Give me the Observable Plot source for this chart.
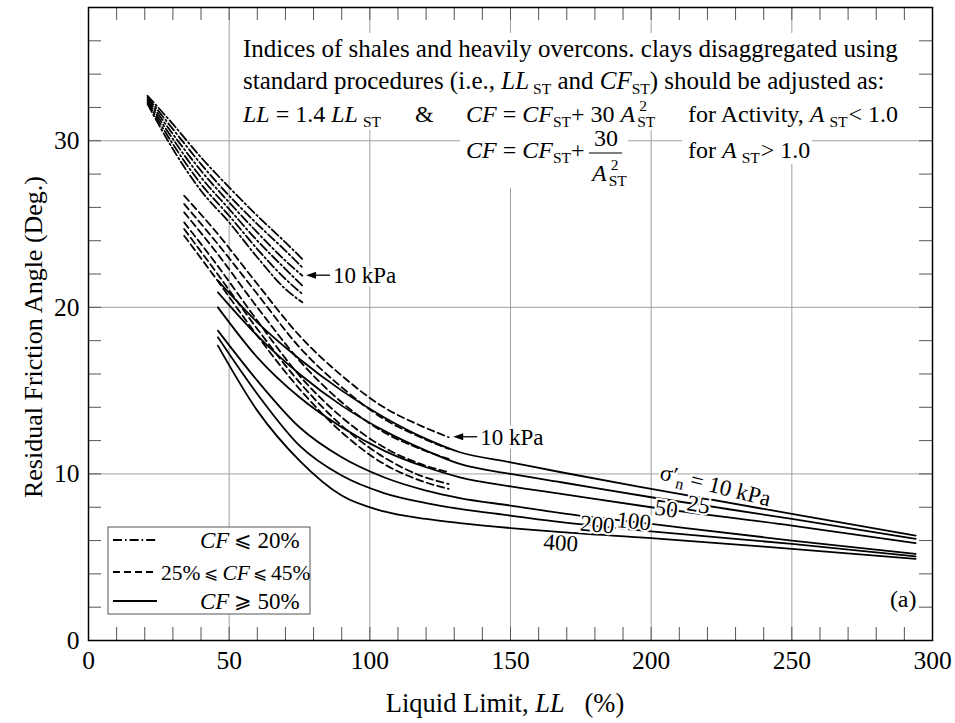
<!DOCTYPE html>
<html><head><meta charset="utf-8">
<script src="https://cdn.jsdelivr.net/npm/d3@7"></script>
<script src="https://cdn.jsdelivr.net/npm/@observablehq/plot@0.6"></script>
<style>body{margin:0;background:#fff} svg{display:block}</style>
</head><body><div id="chart"></div>
<script>
// ---- axis ticks ----
const X_MAJOR = [0, 50, 100, 150, 200, 250, 300];
const Y_MAJOR = [0, 10, 20, 30];
const X_GRID = [50, 100, 150, 200, 250];
const Y_GRID = [10, 20, 30];
const X_MINOR = [10,20,30,40,50,60,70,80,90,100,110,120,130,140,150,160,170,180,190,200,210,220,230,240,250,260,270,280,290];
const Y_MINOR = [2,4,6,8,10,12,14,16,18,20,22,24,26,28,30,32,34,36];

// ---- curves: CF <= 20% (dash-dot) ----
const ddLL   = [21, 30, 40, 50, 60, 70, 76];
const dd10   = [32.7, 31.0, 29.0, 27.2, 25.5, 23.9, 22.9];
const dd25   = [32.6, 30.7, 28.6, 26.7, 25.0, 23.4, 22.4];
const dd50   = [32.5, 30.4, 28.2, 26.3, 24.5, 22.8, 21.9];
const dd100  = [32.4, 30.1, 27.8, 25.9, 24.0, 22.3, 21.3];
const dd200  = [32.3, 29.8, 27.4, 25.5, 23.5, 21.7, 20.8];
const dd400  = [32.2, 29.5, 27.0, 25.1, 23.0, 21.1, 20.3];

// ---- curves: 25% <= CF <= 45% (dashed) ----
const dLL   = [34, 45, 60, 75, 90, 105, 118, 128];
const d10   = [26.7, 24.6, 21.4, 18.3, 15.9, 14.0, 12.9, 12.2];
const d25   = [26.2, 24.0, 20.8, 17.6, 15.2, 13.3, 12.2, 11.5];
const d50   = [25.7, 23.4, 20.0, 16.8, 14.3, 12.5, 11.5, 10.9];
const d100  = [25.1, 22.7, 19.2, 15.9, 13.4, 11.6, 10.6, 10.1];
const d200  = [24.7, 22.2, 18.7, 15.5, 12.9, 11.0, 9.9, 9.4];
const d400  = [24.3, 21.8, 18.3, 15.1, 12.5, 10.6, 9.6, 9.1];

// ---- curves: CF >= 50% (solid) ----
const sLL   = [46, 60, 75, 90, 105, 120, 132, 150, 168, 200, 250, 294];
const s10   = [21.6, 19.1, 16.9, 15.0, 13.4, 12.1, 11.3, 10.7, 10.1, 9.1, 7.6, 6.3];
const s25   = [20.9, 18.3, 16.0, 14.1, 12.6, 11.4, 10.6, 10.0, 9.5, 8.6, 7.3, 6.1];
const s50   = [20.0, 17.0, 14.6, 12.8, 11.4, 10.4, 9.8, 9.25, 8.8, 8.0, 6.9, 5.85];
const s100  = [18.6, 15.6, 12.8, 11.0, 9.8, 9.0, 8.55, 8.1, 7.65, 7.0, 6.0, 5.2];
const s200  = [18.2, 14.8, 11.7, 9.9, 8.85, 8.25, 7.9, 7.5, 7.1, 6.55, 5.8, 5.05];
const s400  = [17.7, 13.8, 10.8, 8.7, 7.75, 7.3, 7.05, 6.75, 6.5, 6.15, 5.5, 4.9];

// ---- curve labels (LL, phi, text) ----
const labelLL   = [223, 217, 205.5, 194, 181, 168];
const labelPhi  = [9.25, 8.1, 7.85, 7.1, 6.9, 5.8];
const labelText = ["10 kPa", "25", "50", "100", "200", "400"];
const labelRot  = [14, 10, 8, 6, 5, 4];

// arrows "10 kPa": tip LL, phi
const arrowLL  = [77.5, 129.8];
const arrowPhi = [21.9, 12.2];

function rows(LLs, arrs, names) {
  const out = [];
  arrs.forEach((a, k) => a.forEach((v, i) => out.push({LL: LLs[i], phi: v, p: names[k]})));
  return out;
}
const P = ["10","25","50","100","200","400"];
const rowsDD = rows(ddLL, [dd10, dd25, dd50, dd100, dd200, dd400], P);
const rowsD  = rows(dLL,  [d10, d25, d50, d100, d200, d400], P);
const rowsS  = rows(sLL,  [s10, s25, s50, s100, s200, s400], P);

const W = 955, H = 723, ML = 88, MR = 23, MT = 7, MB = 83;
const PW = W - ML - MR, PH = H - MT - MB;
const FONT = "Liberation Serif, Times New Roman, serif";
const lineOpts = {x: "LL", y: "phi", z: "p", curve: "monotone-x", stroke: "black", strokeWidth: 1.8};

const chart = Plot.plot({
  width: W, height: H,
  marginLeft: ML, marginRight: MR, marginTop: MT, marginBottom: MB,
  x: {domain: [0, 300], label: null},
  y: {domain: [0, 38], label: null},
  style: {fontFamily: FONT, fontSize: "25px", background: "white", color: "black"},
  marks: [
    Plot.ruleX(X_GRID, {stroke: "#a0a0a0", strokeWidth: 1}),
    Plot.ruleY(Y_GRID, {stroke: "#a0a0a0", strokeWidth: 1}),
    // inward ticks
    Plot.ruleX(X_MINOR, {stroke: "#555", strokeWidth: 1, insetTop: PH - 13}),
    Plot.ruleX(X_MINOR, {stroke: "#555", strokeWidth: 1, insetBottom: PH - 13}),
    Plot.ruleY(Y_MINOR, {stroke: "#555", strokeWidth: 1, insetRight: PW - 13}),
    Plot.ruleY(Y_MINOR, {stroke: "#555", strokeWidth: 1, insetLeft: PW - 13}),
    Plot.line(rowsDD, {...lineOpts, strokeDasharray: "9,3,1.6,3"}),
    Plot.line(rowsD,  {...lineOpts, strokeDasharray: "7,4"}),
    Plot.line(rowsS,  {...lineOpts}),
    Plot.axisX({ticks: X_MAJOR, tickSize: 0, tickPadding: 10, fontSize: 25.5, fontFamily: FONT, tickFormat: d => String(d)}),
    Plot.axisY({ticks: Y_MAJOR, tickSize: 0, tickPadding: 9, fontSize: 25.5, fontFamily: FONT, tickFormat: d => String(d)}),
    Plot.frame({stroke: "black", strokeWidth: 1.5})
  ]
});
document.getElementById("chart").appendChild(chart);

const sx = chart.scale("x"), sy = chart.scale("y");
const svg = d3.select(chart);
const ann = svg.append("g").attr("font-family", FONT).attr("fill", "black").attr("text-anchor", "start");

// rich text helper: segments laid out sequentially
function rich(g, x0, y0, segs, size, halo) {
  let x = x0;
  segs.forEach(s => {
    const fs = s.size || size;
    const t = g.append("text").attr("x", x + (s.gap || 0)).attr("y", y0 + (s.dy || 0))
      .attr("text-anchor", "start").attr("xml:space", "preserve")
      .attr("font-size", fs).attr("font-style", s.it ? "italic" : "normal").text(s.t);
    if (halo) t.attr("stroke", "white").attr("stroke-width", halo).attr("paint-order", "stroke").attr("stroke-linejoin", "round");
    const w = t.node().getComputedTextLength();
    if (!s.noAdv) x += w + (s.gap || 0);
  });
  return x;
}

// white backing of the annotation block (hides grid)
const blk = ann.append("g");
[[238, 33, 672, 64], [238, 97, 672, 33], [460, 130, 168, 58], [682, 130, 130, 34]].forEach(r =>
  blk.append("rect").attr("x", r[0]).attr("y", r[1]).attr("width", r[2]).attr("height", r[3]).attr("fill", "white"));
const F = 25, FE = 24, SUB = 15.5;
rich(blk, 243, 57, [{t: "Indices of shales and heavily overcons. clays disaggregated using"}], F, 0);
rich(blk, 243, 89, [
  {t: "standard procedures (i.e., "}, {t: "LL", it: 1}, {t: "ST", size: SUB, dy: 5, gap: 4},
  {t: " and "}, {t: "CF", it: 1}, {t: "ST", size: SUB, dy: 5, gap: 0}, {t: ") should be adjusted as:"}
], F, 0);
rich(blk, 243, 122, [
  {t: "LL", it: 1}, {t: " = 1.4 "}, {t: "LL", it: 1}, {t: "ST", size: SUB, dy: 5, gap: 5}
], FE, 0);
rich(blk, 415, 122, [{t: "&"}], FE, 0);
rich(blk, 466, 122, [
  {t: "CF", it: 1}, {t: " = "}, {t: "CF", it: 1}, {t: "ST", size: SUB, dy: 5, gap: 0},
  {t: "+ 30 "}, {t: "A", it: 1}, {t: "2", size: SUB, dy: -11, gap: 4, noAdv: 1}, {t: "ST", size: SUB, dy: 5, gap: 2}
], FE, 0);
rich(blk, 688, 122, [
  {t: "for Activity, "}, {t: "A", it: 1}, {t: "ST", size: SUB, dy: 5, gap: 5}, {t: "< 1.0", gap: 1}
], FE, 0);
rich(blk, 466, 158, [
  {t: "CF", it: 1}, {t: " = "}, {t: "CF", it: 1}, {t: "ST", size: SUB, dy: 5, gap: 0}, {t: "+"}
], FE, 0);
rich(blk, 594, 146, [{t: "30"}], FE, 0);
blk.append("line").attr("x1", 589).attr("x2", 622).attr("y1", 153).attr("y2", 153).attr("stroke", "black").attr("stroke-width", 1.2);
rich(blk, 592, 181, [
  {t: "A", it: 1}, {t: "2", size: SUB, dy: -11, gap: 4, noAdv: 1}, {t: "ST", size: SUB, dy: 5, gap: 2}
], FE, 0);
rich(blk, 688, 158, [
  {t: "for "}, {t: "A", it: 1}, {t: "ST", size: SUB, dy: 5, gap: 5}, {t: "> 1.0", gap: 1}
], FE, 0);

// "10 kPa" arrows
arrowLL.forEach((ll, i) => {
  const x = sx.apply(ll), y = sy.apply(arrowPhi[i]);
  ann.append("line").attr("x1", x + 4).attr("x2", x + 24).attr("y1", y).attr("y2", y).attr("stroke", "black").attr("stroke-width", 1.3);
  ann.append("path").attr("d", `M${x},${y}L${x + 10},${y - 3.5}L${x + 10},${y + 3.5}Z`).attr("fill", "black");
  rich(ann, x + 27, y + 8, [{t: "10 kPa"}], 23, 7);
});

// curve labels on solid lines
labelText.forEach((t, i) => {
  const x = sx.apply(labelLL[i]), y = sy.apply(labelPhi[i]);
  const g = ann.append("g").attr("transform", `translate(${x},${y}) rotate(${labelRot[i]})`);
  const txt = g.append("text").attr("text-anchor", "middle").attr("y", 7).attr("font-size", 23)
    .attr("stroke", "white").attr("stroke-width", 4).attr("paint-order", "stroke");
  if (i === 0) {
    txt.append("tspan").text("σ′");
    txt.append("tspan").attr("font-size", 16).attr("dy", 5).text("n");
    txt.append("tspan").attr("dy", -5).text(" = " + t);
  } else {
    txt.text(t);
  }
});

// "(a)"
ann.append("text").attr("x", sx.apply(294.5)).attr("y", sy.apply(2.0)).attr("text-anchor", "end").attr("font-size", 24).text("(a)");

// axis titles
ann.append("text").attr("transform", `translate(42,${337}) rotate(-90)`).attr("text-anchor", "middle")
  .attr("font-size", 26).text("Residual Friction Angle (Deg.)");
const xt = ann.append("text").attr("x", 505).attr("y", 712).attr("text-anchor", "middle").attr("font-size", 26.5).attr("xml:space", "preserve");
xt.append("tspan").text("Liquid Limit, ");
xt.append("tspan").attr("font-style", "italic").text("LL");
xt.append("tspan").text("   (%)");

// legend
const lg = ann.append("g");
lg.append("rect").attr("x", 108).attr("y", 527).attr("width", 202).attr("height", 87).attr("fill", "white").attr("stroke", "#555").attr("stroke-width", 1);
const LE = 17, LE2 = 21;
const legRows = [
  {dash: "9,3,1.6,3", y: 540, x: 200, fs: 23, segs: [{t: "CF", it: 1}, {t: "⩽", size: LE2, dy: -1, gap: 5}, {t: "20%", gap: 5}]},
  {dash: "7,4", y: 572, x: 161, fs: 21.5, segs: [{t: "25%"}, {t: "⩽", size: LE, dy: -1, gap: 4}, {t: "CF", it: 1, gap: 4}, {t: "⩽", size: LE, dy: -1, gap: 3}, {t: "45%", gap: 4}]},
  {dash: null, y: 601, x: 200, fs: 23, segs: [{t: "CF", it: 1}, {t: "⩾", size: LE2, dy: -1, gap: 5}, {t: "50%", gap: 5}]}
];
legRows.forEach(r => {
  const l = lg.append("line").attr("x1", 113).attr("x2", 157).attr("y1", r.y).attr("y2", r.y).attr("stroke", "black").attr("stroke-width", 1.8);
  if (r.dash) l.attr("stroke-dasharray", r.dash);
  rich(lg, r.x, r.y + 8, r.segs, r.fs, 0);
});
</script></body></html>
